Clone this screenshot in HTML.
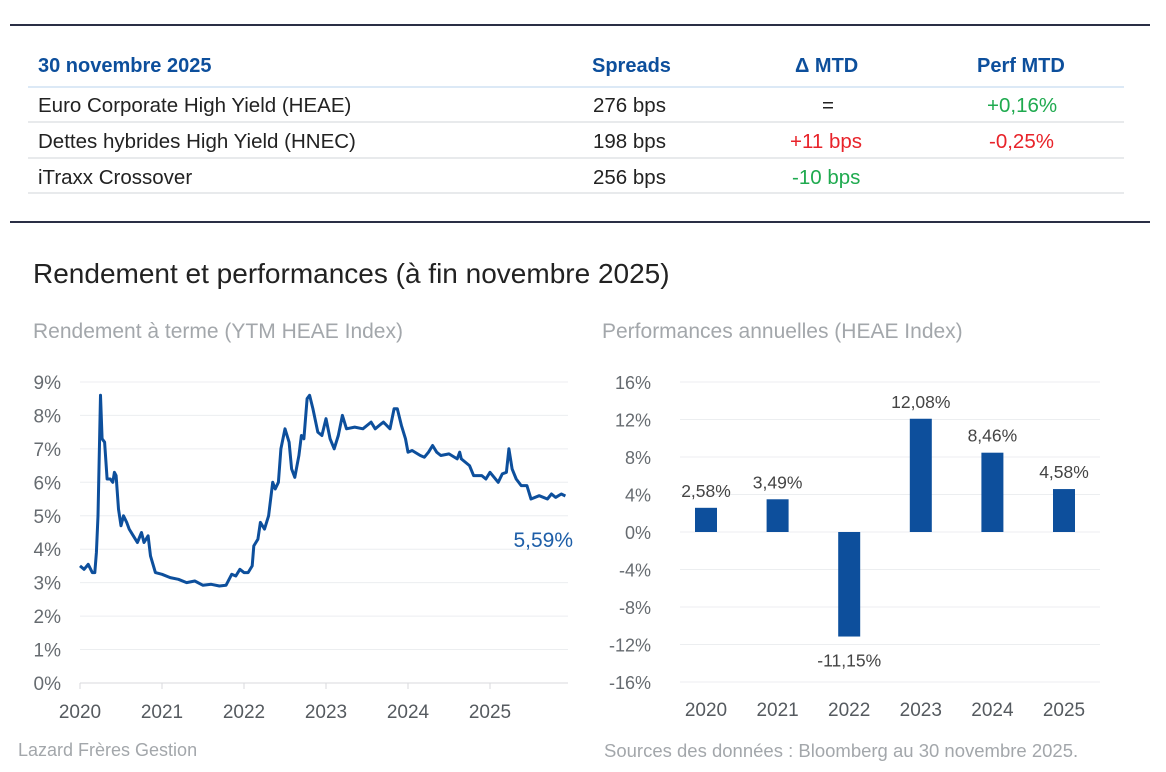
<!DOCTYPE html>
<html><head><meta charset="utf-8"><style>
body{margin:0;width:1166px;height:772px;background:#fff;font-family:"Liberation Sans",sans-serif;position:relative;overflow:hidden}
.abs{position:absolute}
.hr{position:absolute;left:10px;width:1140px;height:2px;background:#2a2f45}
.th{position:absolute;top:55px;font-size:20px;font-weight:bold;color:#0d4f9c}
.td{position:absolute;font-size:20.5px;color:#222}
.rl{position:absolute;left:28px;width:1096px;height:2px;background:#e8eaec}
</style></head><body>
<div class="hr" style="top:24px"></div>
<div>
<div class="th" style="left:38px">30 novembre 2025</div>
<div class="th" style="left:592px">Spreads</div>
<div class="th" style="left:795px">Δ MTD</div>
<div class="th" style="left:977px">Perf MTD</div>
<div class="rl" style="top:86px;background:#dce9f6"></div>
<div class="td" style="left:38px;top:94px">Euro Corporate High Yield (HEAE)</div>
<div class="td" style="left:593px;top:94px">276 bps</div>
<div class="td" style="left:822px;top:94px">=</div>
<div class="td" style="left:987px;top:94px;color:#1faa4f">+0,16%</div>
<div class="rl" style="top:121px"></div>
<div class="td" style="left:38px;top:130px">Dettes hybrides High Yield (HNEC)</div>
<div class="td" style="left:593px;top:130px">198 bps</div>
<div class="td" style="left:790px;top:130px;color:#e8232a">+11 bps</div>
<div class="td" style="left:989px;top:130px;color:#e8232a">-0,25%</div>
<div class="rl" style="top:157px"></div>
<div class="td" style="left:38px;top:166px">iTraxx Crossover</div>
<div class="td" style="left:593px;top:166px">256 bps</div>
<div class="td" style="left:792px;top:166px;color:#1faa4f">-10 bps</div>
<div class="rl" style="top:192px"></div>
</div>
<div class="hr" style="top:221px"></div>
<div class="abs" style="left:33px;top:258px;font-size:28px;color:#222">Rendement et performances (à fin novembre 2025)</div>
<div class="abs" style="left:33px;top:320px;font-size:21px;color:#a3a7ab">Rendement à terme (YTM HEAE Index)</div>
<div class="abs" style="left:602px;top:320px;font-size:21px;color:#a3a7ab">Performances annuelles (HEAE Index)</div>
<div class="abs" style="left:18px;top:740px;font-size:18px;color:#a3a7ab">Lazard Frères Gestion</div>
<div class="abs" style="left:604px;top:740px;font-size:18.5px;color:#a3a7ab">Sources des données : Bloomberg au 30 novembre 2025.</div>
<svg id="svg" class="abs" style="left:0;top:0" width="1166" height="772"></svg>
<script>
const lineT=[2020.0,2020.05,2020.1,2020.15,2020.18,2020.2,2020.22,2020.25,2020.27,2020.3,2020.33,2020.37,2020.4,2020.42,2020.44,2020.47,2020.5,2020.53,2020.57,2020.6,2020.65,2020.7,2020.75,2020.78,2020.83,2020.86,2020.92,2021.0,2021.1,2021.2,2021.3,2021.4,2021.5,2021.6,2021.7,2021.78,2021.85,2021.9,2021.95,2022.0,2022.05,2022.1,2022.12,2022.17,2022.2,2022.25,2022.3,2022.35,2022.38,2022.42,2022.45,2022.5,2022.55,2022.58,2022.62,2022.67,2022.7,2022.73,2022.77,2022.8,2022.84,2022.9,2022.95,2023.0,2023.05,2023.1,2023.15,2023.2,2023.25,2023.35,2023.45,2023.55,2023.6,2023.7,2023.78,2023.83,2023.87,2023.92,2023.97,2024.0,2024.05,2024.15,2024.2,2024.25,2024.3,2024.35,2024.4,2024.5,2024.6,2024.63,2024.65,2024.75,2024.8,2024.9,2024.95,2025.0,2025.05,2025.1,2025.15,2025.2,2025.23,2025.27,2025.32,2025.38,2025.45,2025.5,2025.6,2025.7,2025.75,2025.8,2025.87,2025.92];
const lineV=[3.5,3.4,3.55,3.3,3.3,3.9,5.0,8.6,7.3,7.2,6.1,6.1,6.0,6.3,6.2,5.2,4.7,5.0,4.8,4.6,4.4,4.2,4.5,4.2,4.4,3.8,3.3,3.25,3.15,3.1,3.0,3.05,2.92,2.95,2.9,2.92,3.25,3.2,3.4,3.3,3.3,3.5,4.1,4.3,4.8,4.6,5.0,6.0,5.8,6.0,7.0,7.6,7.2,6.4,6.15,6.8,7.4,7.3,8.5,8.6,8.2,7.5,7.4,7.9,7.3,7.0,7.4,8.0,7.6,7.65,7.6,7.8,7.6,7.8,7.6,8.2,8.2,7.7,7.3,6.9,6.95,6.8,6.75,6.9,7.1,6.9,6.8,6.85,6.7,6.9,6.7,6.5,6.2,6.2,6.1,6.3,6.15,6.0,6.25,6.3,7.0,6.4,6.1,5.9,5.9,5.5,5.6,5.5,5.65,5.55,5.65,5.59];
const yTicksL=[0,1,2,3,4,5,6,7,8,9];
const xYears=[2020,2021,2022,2023,2024,2025];
const lastLabel="5,59%";
const barCats=["2020","2021","2022","2023","2024","2025"];
const barVals=[2.58,3.49,-11.15,12.08,8.46,4.58];
const barLabels=["2,58%","3,49%","-11,15%","12,08%","8,46%","4,58%"];
const yTicksB=[-16,-12,-8,-4,0,4,8,12,16];

const NS="http://www.w3.org/2000/svg",svg=document.getElementById('svg');
function mk(t,a,p){const e=document.createElementNS(NS,t);for(const k in a)e.setAttribute(k,a[k]);(p||svg).appendChild(e);return e;}
const xL=t=>80+(t-2020)*82, yL=v=>683-v*33.45;
const yB=v=>532-v*9.375, xB=i=>706+i*71.6;
const gl=mk('g',{});
yTicksL.forEach(v=>{
 const l=mk('line',{x1:80,x2:568,y1:yL(v),y2:yL(v),stroke:v?'#eceef0':'#d8dadc','stroke-width':1},gl);
 
 const t=mk('text',{x:61,y:yL(v)+7,'text-anchor':'end','font-size':19,fill:'#666b70'},gl);t.textContent=v+'%';
 
});
xYears.forEach(y=>{
 mk('line',{x1:xL(y),x2:xL(y),y1:683,y2:689,stroke:'#d8dadc'},gl);
 const t=mk('text',{x:xL(y),y:718,'text-anchor':'middle','font-size':19,fill:'#555a5f'},gl);t.textContent=y;
 
});
const p=mk('path',{d:lineT.map((t,i)=>(i?'L':'M')+xL(t).toFixed(1)+','+yL(lineV[i]).toFixed(1)).join(''),fill:'none',stroke:'#0d4f9c','stroke-width':3,'stroke-linejoin':'round'},gl);

const ll=mk('text',{x:573,y:yL(lineV[lineV.length-1])+51,'text-anchor':'end','font-size':21,fill:'#1d5ea8'},gl);ll.textContent=lastLabel;


const gb=mk('g',{});
yTicksB.forEach(v=>{
 const l=mk('line',{x1:680,x2:1100,y1:yB(v),y2:yB(v),stroke:'#eceef0'},gb);
 
 const t=mk('text',{x:651,y:yB(v)+7,'text-anchor':'end','font-size':18,fill:'#666b70'},gb);t.textContent=v+'%';
 
});
barVals.forEach((v,i)=>{
 const r=mk('rect',{x:xB(i)-11,width:22,y:Math.min(yB(v),yB(0)),height:Math.abs(yB(v)-yB(0)),fill:'#0d4f9c'},gb);
 
 const t=mk('text',{x:xB(i),y:v>=0?yB(v)-11:yB(v)+30,'text-anchor':'middle','font-size':17.5,fill:'#444'},gb);t.textContent=barLabels[i];
 
 const c=mk('text',{x:xB(i),y:716,'text-anchor':'middle','font-size':19,fill:'#555a5f'},gb);c.textContent=barCats[i];
 
});
</script>
</body></html>
